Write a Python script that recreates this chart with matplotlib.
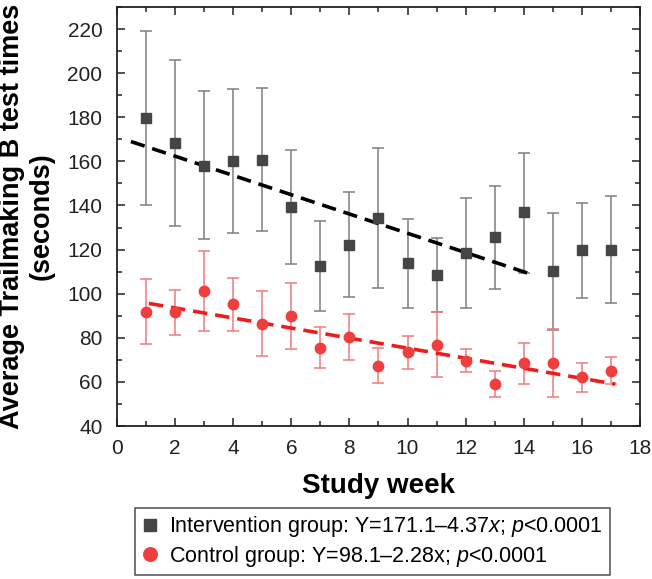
import matplotlib
matplotlib.use("Agg")
import matplotlib.pyplot as plt
import numpy as np
from matplotlib.ticker import MultipleLocator

plt.rcParams['font.family'] = ['Liberation Sans', 'DejaVu Sans']
plt.rcParams['mathtext.fontset'] = 'custom'
plt.rcParams['mathtext.it'] = 'Liberation Sans:italic'
plt.rcParams['mathtext.rm'] = 'Liberation Sans'

weeks = [1, 2, 3, 4, 5, 6, 7, 8, 9, 10, 11, 12, 13, 14, 15, 16, 17]

int_mean = [179.7, 168.5, 158.0, 160.2, 160.5, 139.3, 112.6, 122.3, 134.4, 113.7, 108.6, 118.3, 125.7, 136.9, 110.3, 119.7, 120.0]
int_upper = [219.0, 205.8, 191.9, 192.8, 193.1, 165.2, 133.0, 146.0, 166.0, 133.7, 125.4, 143.5, 149.0, 164.0, 136.5, 141.0, 144.3]
int_lower = [140.4, 130.7, 124.7, 127.4, 128.3, 113.5, 92.2, 98.4, 102.7, 93.7, 91.9, 93.4, 102.3, 109.3, 83.6, 98.2, 95.8]

ctl_mean = [91.8, 91.5, 101.2, 95.2, 86.4, 89.9, 75.6, 80.5, 67.3, 73.5, 76.7, 69.6, 59.0, 68.4, 68.6, 62.1, 64.9]
ctl_upper = [106.5, 101.8, 119.2, 107.0, 101.2, 104.8, 84.7, 90.8, 75.2, 80.9, 91.7, 74.9, 64.8, 77.5, 84.0, 68.7, 71.3]
ctl_lower = [77.3, 81.1, 83.2, 83.2, 71.6, 75.0, 66.2, 70.0, 59.5, 66.0, 62.2, 64.3, 53.1, 59.0, 53.1, 55.4, 59.2]

int_fit = (171.1, -4.37)
ctl_fit = (98.1, -2.28)
int_fit_range = (0.48, 14.28)
ctl_fit_range = (1.1, 17.15)

int_label = r"Intervention group: Y=171.1–4.37$\it{x}$; $\it{p}$<0.0001"
ctl_label = r"Control group: Y=98.1–2.28x; $\it{p}$<0.0001"

fig = plt.figure(figsize=(6.52, 5.79), dpi=100)
ax = fig.add_axes([0.1794, 0.2642, 0.8022, 0.7237])

w = np.array(weeks)
im = np.array(int_mean)
cm = np.array(ctl_mean)
int_err = [im - np.array(int_lower), np.array(int_upper) - im]
ctl_err = [cm - np.array(ctl_lower), np.array(ctl_upper) - cm]

ax.errorbar(w, im, yerr=int_err, fmt='none', ecolor='#7f7f7f', elinewidth=1.1, capsize=4, capthick=1.1, zorder=2)
ax.errorbar(w, cm, yerr=ctl_err, fmt='none', ecolor='#f07a7a', elinewidth=1.1, capsize=4, capthick=1.1, zorder=2)

xi = np.array(int_fit_range)
ax.plot(xi, int_fit[0] + int_fit[1] * xi, color='black', lw=2.6, linestyle=(0, (4, 2.2)), zorder=3)
xc = np.array(ctl_fit_range)
ax.plot(xc, ctl_fit[0] + ctl_fit[1] * xc, color='#ee1c1c', lw=2.6, linestyle=(0, (4, 2.2)), zorder=3)

h1, = ax.plot(w, im, 's', color='#454545', markersize=7, zorder=4, label=int_label)
h2, = ax.plot(w, cm, 'o', color='#ee3e3e', markersize=7.5, zorder=4, label=ctl_label)

ax.set_xlim(0, 18)
ax.set_ylim(40, 230)
ax.xaxis.set_major_locator(MultipleLocator(2))
ax.xaxis.set_minor_locator(MultipleLocator(1))
ax.yaxis.set_major_locator(MultipleLocator(20))
ax.yaxis.set_minor_locator(MultipleLocator(10))
ax.set_yticks([40, 60, 80, 100, 120, 140, 160, 180, 200, 220])
ax.tick_params(which='both', direction='in', top=True, right=True, width=1.1, labelsize=15, colors='#222222')
ax.tick_params(which='major', length=6)
ax.tick_params(which='minor', length=3.5)
ax.tick_params(axis='x', pad=9)
ax.tick_params(axis='y', pad=10.5)
for s in ax.spines.values():
    s.set_linewidth(1.3)
    s.set_color('#222222')

ax.set_xlabel('Study week', fontsize=20, fontweight='bold', labelpad=11)
ax.set_ylabel('Average Trailmaking B test times\n(seconds)', fontsize=19.5, fontweight='bold', labelpad=9)

leg = fig.legend(handles=[h1, h2], loc='center left', bbox_to_anchor=(135 / 652, 1 - 541.5 / 579), fontsize=15.5,
                 frameon=True, fancybox=False, edgecolor='#222222', handlelength=0.8, handletextpad=0.5,
                 borderpad=0.3, labelspacing=0.22, markerscale=1.3, borderaxespad=0)
leg.get_frame().set_linewidth(1.1)

fig.savefig('out.png', dpi=100)
